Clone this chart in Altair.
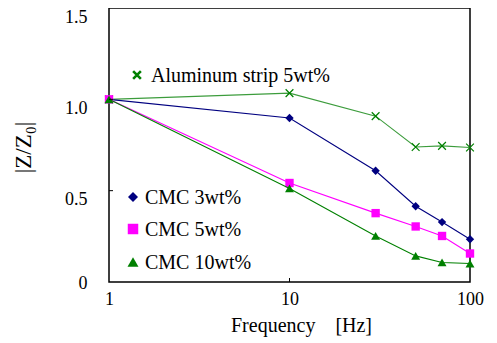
import altair as alt
import pandas as pd

# ---- data ----
freqs = [1, 10, 30, 50, 70, 100]
series_names = ["Aluminum strip 5wt%", "CMC 3wt%", "CMC 5wt%", "CMC 10wt%"]
al_strip = [1.0, 1.034, 0.908, 0.739, 0.745, 0.736]
cmc3 = [1.0, 0.898, 0.609, 0.415, 0.328, 0.234]
cmc5 = [1.0, 0.542, 0.377, 0.304, 0.252, 0.156]
cmc10 = [1.0, 0.512, 0.252, 0.143, 0.107, 0.101]
y_ticks = [0, 0.5, 1.0, 1.5]
x_ticks = [1, 10, 100]

values = [al_strip, cmc3, cmc5, cmc10]

# ---- styles ----
W, H = 361, 274
FONT = "Liberation Serif, Times New Roman, serif"
FS = 18
LFS = 20
XSHAPE = "M-1,-1L1,1M-1,1L1,-1"
styles = {
    "Aluminum strip 5wt%": dict(line="#3c9c3c", pt="#008000", shape=XSHAPE, filled=False, size=60, lsize=60, sw=1.2, lsw=2.6),
    "CMC 3wt%": dict(line="#000080", pt="#000080", shape="diamond", filled=True, size=70, lsize=100, sw=0, lsw=0),
    "CMC 5wt%": dict(line="#ff00ff", pt="#ff00ff", shape="square", filled=True, size=70, lsize=110, sw=0, lsw=0),
    "CMC 10wt%": dict(line="#008000", pt="#008000", shape="triangle-up", filled=True, size=80, lsize=120, sw=0, lsw=0),
}
legend_pos = {
    "Aluminum strip 5wt%": (28, 67, 42),
    "CMC 3wt%": (24, 189, 36),
    "CMC 5wt%": (24, 221, 36),
    "CMC 10wt%": (24, 254, 36),
}

xscale = alt.Scale(type="log", domain=[1, 100], nice=False)
yscale = alt.Scale(domain=[0, 1.5], nice=False, zero=False)

xaxis = alt.Axis(
    values=x_ticks, format="d", ticks=False, domain=False, grid=False,
    labelPadding=8, title="Frequency\u00a0\u00a0\u00a0\u00a0[Hz]",
    titleX=192, titleY=33, labelFlush=False, titleFontSize=20,
)
yaxis = alt.Axis(
    values=y_ticks, ticks=False, domain=False, grid=False,
    labelExpr="datum.value == 0 ? '0' : format(datum.value, '.1f')",
    labelPadding=22,
    labelOffset={"condition": {"test": "datum.value == 0", "value": 1}, "value": 9},
    title="|Z/Z\u2080|", titleX=-86, titleY=139, titleBaseline="middle",
    titleFontSize=23,
)

layers = []
for name, vals in zip(series_names, values):
    st = styles[name]
    df = pd.DataFrame({"freq": freqs, "value": vals, "series": name})
    enc = dict(
        x=alt.X("freq:Q", scale=xscale, axis=xaxis),
        y=alt.Y("value:Q", scale=yscale, axis=yaxis),
    )
    base = alt.Chart(df)
    layers.append(base.mark_line(color=st["line"], strokeWidth=1.1).encode(**enc))
    if st["filled"]:
        pt = base.mark_point(shape=st["shape"], filled=True, color=st["pt"], size=st["size"], opacity=1)
    else:
        pt = base.mark_point(shape=st["shape"], filled=False, color=st["pt"], size=st["size"],
                             strokeWidth=st["sw"], opacity=1)
    layers.append(pt.encode(**enc))

# inward tick marks
ytick_df = pd.DataFrame({"value": y_ticks[1:3]})
layers.append(alt.Chart(ytick_df).mark_rule(color="black", strokeWidth=1).encode(
    y=alt.Y("value:Q", scale=yscale, axis=yaxis), x=alt.value(0), x2=alt.value(4)))
xtick_df = pd.DataFrame({"freq": [10]})
layers.append(alt.Chart(xtick_df).mark_rule(color="black", strokeWidth=1).encode(
    x=alt.X("freq:Q", scale=xscale, axis=xaxis), y=alt.value(H), y2=alt.value(H - 4)))

# in-plot legend
for name in series_names:
    st = styles[name]
    mx, my, tx = legend_pos[name]
    ldf = pd.DataFrame({"label": [name]})
    if st["filled"]:
        sym = alt.Chart(ldf).mark_point(shape=st["shape"], filled=True, color=st["pt"], size=st["lsize"], opacity=1)
    else:
        sym = alt.Chart(ldf).mark_point(shape=st["shape"], filled=False, color=st["pt"], size=st["lsize"],
                                        strokeWidth=st["lsw"], opacity=1)
    layers.append(sym.encode(x=alt.value(mx), y=alt.value(my)))
    layers.append(alt.Chart(ldf).mark_text(align="left", baseline="middle", font=FONT, fontSize=LFS,
                                           color="black").encode(
        x=alt.value(tx), y=alt.value(my + 1), text="label:N"))

chart = alt.layer(*layers).properties(
    width=W, height=H,
    autosize=alt.AutoSizeParams(type="none"),
    padding={"left": 101, "top": 0, "right": 19, "bottom": 60},
    background="white",
).configure_view(stroke="black", strokeWidth=1.5).configure_axis(
    labelFont=FONT, labelFontSize=FS, labelColor="black",
    titleFont=FONT, titleFontSize=FS, titleColor="black", titleFontWeight="normal",
)

chart.save("out.html", embed_options={"renderer": "svg", "actions": False})
